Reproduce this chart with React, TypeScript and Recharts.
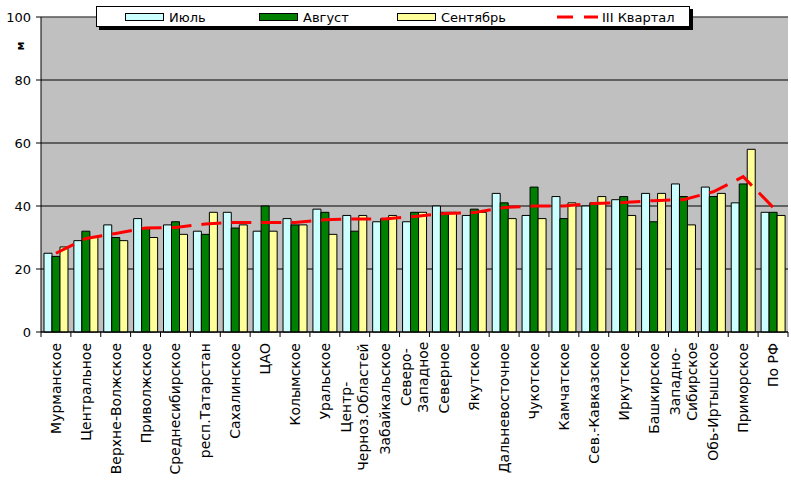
import React from 'react';
import { ComposedChart, Bar, Line, XAxis, YAxis, CartesianGrid, ReferenceLine, Legend } from 'recharts';

const regions = [
  'Мурманское', 'Центральное', 'Верхне-Волжское', 'Приволжское', 'Среднесибирское',
  'респ.Татарстан', 'Сахалинское', 'ЦАО', 'Колымское', 'Уральское',
  'Центр-\nЧерноз.Областей', 'Забайкальское', 'Северо-\nЗападное', 'Северное', 'Якутское',
  'Дальневосточное', 'Чукотское', 'Камчатское', 'Сев.-Кавказское', 'Иркутское',
  'Башкирское', 'Западно-\nСибирское', 'Обь-Иртышское', 'Приморское', 'По РФ',
];
const july = [25, 29, 34, 36, 34, 32, 38, 32, 36, 39, 37, 35, 35, 40, 37, 44, 37, 43, 40, 42, 44, 47, 46, 41, 38];
const august = [24, 32, 30, 33, 35, 31, 33, 40, 34, 38, 32, 36, 38, 38, 39, 41, 46, 36, 41, 43, 35, 43, 43, 47, 38];
const september = [27, 30, 29, 30, 31, 38, 34, 32, 34, 31, 37, 37, 38, 38, 38, 36, 36, 41, 43, 37, 44, 34, 44, 58, 37];
const quarter = [25, 29.7, 31.3, 33, 33.2, 34.3, 34.8, 34.8, 34.8, 35.6, 35.9, 35.9, 36.7, 37.6, 37.9, 39.5, 40, 40, 40.8, 41.1, 41.7, 42, 44.5, 49.3, 39.6];
const yTicks = [0, 20, 40, 60, 80, 100];
const seriesNames = ['Июль', 'Август', 'Сентябрь', 'III Квартал'];
const axisTitle = 'м';

const data = regions.map((name, i) => ({
  name,
  jul: july[i],
  aug: august[i],
  sep: september[i],
  q: quarter[i],
}));

const FONT = '"DejaVu Sans", sans-serif';
const COL_JUL = '#CCFFFF';
const COL_AUG = '#008000';
const COL_SEP = '#FFFF99';
const COL_Q = '#FF0000';

const CategoryTick = (props: any) => {
  const { x, y, payload, index } = props;
  const half = payload && payload.offset ? payload.offset : 14.92;
  const lines = String(payload.value).split('\n');
  const fs = 14;
  const top = y + 11;
  const lineGap = 17;
  const longest = Math.max(...lines.map((l) => l.length));
  const els: any[] = [];
  els.push(<line key="tl" x1={x - half} y1={y} x2={x - half} y2={y + 5} stroke="#000" />);
  if (index === regions.length - 1) {
    els.push(<line key="tr" x1={x + half} y1={y} x2={x + half} y2={y + 5} stroke="#000" />);
  }
  if (lines.length === 1) {
    els.push(
      <text key="t0" x={x} y={top} transform={`rotate(-90, ${x}, ${top})`} textAnchor="end" dy="0.36em"
        fontFamily={FONT} fontSize={fs} fill="#000">{lines[0]}</text>
    );
  } else {
    const mid = top + (longest * fs * 0.61) / 2;
    lines.forEach((l, i) => {
      const lx = x + (i - (lines.length - 1) / 2) * lineGap;
      els.push(
        <text key={'t' + i} x={lx} y={mid} transform={`rotate(-90, ${lx}, ${mid})`} textAnchor="middle" dy="0.36em"
          fontFamily={FONT} fontSize={fs} fill="#000">{l}</text>
      );
    });
  }
  return <g>{els}</g>;
};

const LegendBox = () => {
  const items = [
    { name: seriesNames[0], color: COL_JUL, sx: 28, tx: 72 },
    { name: seriesNames[1], color: COL_AUG, sx: 162, tx: 206 },
    { name: seriesNames[2], color: COL_SEP, sx: 300, tx: 344 },
  ];
  return (
    <div style={{ position: 'relative', width: 594, height: 21, background: '#fff', border: '1px solid #000', boxShadow: '3px 3px 0 #000', boxSizing: 'border-box' }}>
      <svg width={594} height={21} style={{ position: 'absolute', left: 0, top: 0 }}>
        {items.map((it) => (
          <g key={it.name}>
            <rect x={it.sx + 0.5} y={6.5} width={38} height={7} fill={it.color} stroke="#000" />
            <text x={it.tx} y={15} fontFamily={FONT} fontSize={13} fill="#000">{it.name}</text>
          </g>
        ))}
        <line x1={460} y1={10} x2={501} y2={10} stroke={COL_Q} strokeWidth={3} strokeDasharray="16 11" />
        <text x={505} y={15} fontFamily={FONT} fontSize={13} fill="#000">{seriesNames[3]}</text>
      </svg>
    </div>
  );
};

const YTitle = (props: any) => {
  const vb = props.viewBox || { x: 0, y: 17 };
  const cx = vb.x + 20;
  const cy = vb.y + 29;
  return (
    <text x={cx} y={cy} transform={`rotate(-90, ${cx}, ${cy})`} textAnchor="middle" dy="0.36em"
      fontFamily={FONT} fontSize={11} fontWeight="bold" fill="#000">{axisTitle}</text>
  );
};

export default function App() {
  return (
    <div style={{ position: 'absolute', left: 0, top: 0, width: 791, height: 483, background: '#fff' }}>
      <ComposedChart
        width={791}
        height={483}
        data={data}
        margin={{ top: 17, right: 3, left: 0, bottom: 0 }}
        barCategoryGap="10%"
        barGap={0}
      >
        <CartesianGrid fill="#C0C0C0" stroke="#000" vertical={false} />
        <XAxis
          dataKey="name"
          interval={0}
          height={151}
          tickSize={0}
          tickMargin={0}
          tickLine={false}
          axisLine={{ stroke: '#000' }}
          tick={<CategoryTick />}
        />
        <YAxis
          domain={[0, 100]}
          ticks={yTicks}
          width={41}
          tickSize={5}
          tickMargin={5}
          axisLine={{ stroke: '#000' }}
          tickLine={{ stroke: '#000' }}
          tick={{ fontFamily: FONT, fontSize: 13, fill: '#000' }}
          label={<YTitle />}
        />
        <YAxis yAxisId="r" orientation="right" width={0} domain={[0, 100]} tick={false} tickLine={false} axisLine={{ stroke: '#808080' }} />
        <ReferenceLine y={100} stroke="#808080" />
        <Bar dataKey="jul" name={seriesNames[0]} fill={COL_JUL} stroke="#000" strokeWidth={1} isAnimationActive={false} />
        <Bar dataKey="aug" name={seriesNames[1]} fill={COL_AUG} stroke="#000" strokeWidth={1} isAnimationActive={false} />
        <Bar dataKey="sep" name={seriesNames[2]} fill={COL_SEP} stroke="#000" strokeWidth={1} isAnimationActive={false} />
        <Line dataKey="q" name={seriesNames[3]} type="linear" stroke={COL_Q} strokeWidth={3} strokeDasharray="20 10" dot={false} activeDot={false} isAnimationActive={false} />
        <Legend
          layout="horizontal"
          verticalAlign="middle"
          align="center"
          content={<LegendBox />}
          wrapperStyle={{ position: 'absolute', left: 96, top: 6, width: 597, height: 24 }}
        />
      </ComposedChart>
    </div>
  );
}
